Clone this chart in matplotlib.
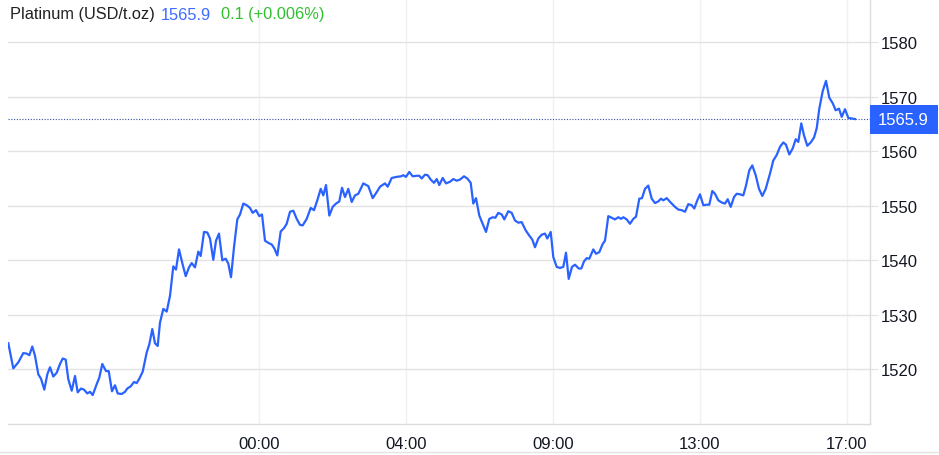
import matplotlib.pyplot as plt
from matplotlib.patches import Rectangle
from matplotlib.lines import Line2D

plt.rcParams['font.family'] = ['Liberation Sans', 'DejaVu Sans']

# session position (chart units) and platinum price
pos = [0.3, 5.3, 10.3, 15.3, 18.7, 21.3, 24.3, 27.0, 30.3, 33.0, 36.3, 39.3, 42.0, 45.3,
       48.7, 52.0, 54.7, 57.7, 60.3, 63.7, 67.0, 69.7, 73.0, 76.0, 79.3, 82.0, 84.7, 88.7,
       91.3, 94.3, 98.0, 100.7, 104.0, 107.0, 109.7, 113.7, 117.0, 119.3, 122.7, 126.0,
       128.7, 131.3,
       134.7, 138.7, 141.3, 144.3, 147.0, 149.7, 152.0, 155.3, 158.7, 162.0, 165.3, 168.0,
       171.0, 174.3, 177.7, 181.0, 183.7, 187.0, 190.3, 192.7, 196.0, 199.3, 202.0, 205.3,
       208.0, 211.0, 214.3, 217.7, 220.3, 223.0, 226.0, 229.3, 232.0, 235.3, 238.7, 242.0,
       244.7, 248.0, 251.3, 254.0, 257.0, 260.3, 263.7, 266.3, 269.3, 272.7, 276.0, 278.7,
       282.0,
       285.3, 288.7, 292.0, 294.7, 298.7, 302.7, 306.0, 309.3, 312.7, 315.3, 318.0, 321.3,
       324.7, 328.0, 331.3, 334.0, 337.0, 340.3, 343.7, 347.0, 350.3, 355.3, 360.3, 364.7,
       368.7, 372.0, 377.0, 379.7, 383.7, 388.7, 393.0, 395.3, 398.0, 401.3, 404.7, 408.7,
       411.3, 413.7, 417.0, 419.7, 422.7, 426.0, 428.7, 431.3, 434.7, 438.0, 442.0, 445.3,
       448.7, 452.0, 456.0, 459.3, 462.7,
       465.3, 468.0, 471.3, 474.7, 478.0, 481.3, 484.7, 487.3, 490.3, 493.7, 496.3, 500.3,
       503.7, 507.0, 510.3, 513.7, 517.7, 521.0, 524.3, 527.0, 530.3, 533.7, 537.0, 539.3,
       542.7, 545.3, 548.7, 552.0, 555.3, 558.0, 560.7, 564.0, 567.0, 570.7, 573.3, 576.0,
       578.7, 581.3, 585.3, 588.0, 591.3, 594.7, 597.0, 600.3,
       603.7, 607.0, 610.3, 613.0, 615.3, 618.7, 622.0, 625.3, 628.0, 631.3, 634.0, 637.0,
       640.3, 643.7, 647.0, 650.3, 653.0, 655.3, 658.7, 662.7, 667.0, 670.3, 673.7, 677.0,
       680.3, 683.7, 686.3, 689.3, 692.0, 695.3, 698.7, 701.3, 704.3, 707.0, 710.3, 713.7,
       717.0, 719.7, 722.7, 726.0, 728.7, 732.0, 735.3, 738.0, 741.3, 744.3, 747.7, 751.0,
       754.3, 757.7, 762.0, 765.3, 768.7, 772.0, 775.3, 778.0, 781.3, 784.7, 787.7, 790.3,
       793.3, 796.0, 799.3, 802.7, 806.0, 808.7, 811.3, 814.7, 818.0, 821.3, 824.7, 827.7,
       831.0, 833.7, 837.0, 840.3, 843.7, 847.0]

price = [1524.8, 1520.2, 1521.3, 1523.0, 1522.9, 1522.6, 1524.2, 1522.5, 1519.1, 1518.3,
         1516.3, 1519.1, 1520.4, 1518.7, 1519.4, 1521.0, 1522.0, 1521.8, 1518.2, 1516.1,
         1518.8, 1515.8, 1516.5, 1516.3, 1515.6, 1515.9, 1515.3, 1517.3, 1518.5, 1521.0,
         1519.7, 1519.7, 1516.0, 1517.1, 1515.6, 1515.5, 1515.9, 1516.5, 1516.9, 1517.7,
         1517.5, 1518.3,
         1519.6, 1523.1, 1524.6, 1527.4, 1524.8, 1524.3, 1528.6, 1531.1, 1530.6, 1533.5,
         1538.9, 1538.3, 1542.0, 1539.5, 1537.1, 1538.7, 1539.5, 1538.7, 1541.6, 1540.8,
         1545.2, 1545.1, 1544.0, 1540.1, 1543.6, 1544.9, 1540.0, 1540.3, 1539.4, 1536.9,
         1542.4, 1547.5, 1548.4, 1550.4, 1550.1, 1549.6, 1548.7, 1549.2, 1548.1, 1548.4,
         1543.6, 1543.2, 1542.9, 1542.2, 1540.9, 1545.3, 1545.9, 1546.7, 1548.9,
         1549.1, 1547.6, 1546.5, 1546.4, 1547.6, 1549.6, 1549.2, 1551.0, 1553.1, 1551.9,
         1553.8, 1548.2, 1549.8, 1550.4, 1550.8, 1553.3, 1551.6, 1553.1, 1550.7, 1551.9,
         1552.2, 1554.1, 1553.6, 1551.4, 1552.5, 1553.5, 1554.1, 1553.5, 1555.1, 1555.3,
         1555.4, 1555.6, 1555.3, 1556.2, 1555.4, 1555.5, 1555.5, 1555.0, 1555.7, 1555.6,
         1554.8, 1554.2, 1554.9, 1553.8, 1555.1, 1554.1, 1554.4, 1554.9, 1554.6, 1554.8,
         1555.4, 1555.0, 1554.2,
         1550.4, 1551.4, 1548.2, 1546.7, 1545.2, 1547.6, 1547.9, 1547.8, 1548.7, 1548.4,
         1547.5, 1549.0, 1548.7, 1547.3, 1546.9, 1547.0, 1545.5, 1544.6, 1543.8, 1542.4,
         1544.0, 1544.7, 1544.9, 1544.0, 1545.2, 1540.6, 1538.8, 1538.6, 1538.8, 1541.4,
         1536.6, 1538.8, 1539.2, 1538.5, 1538.5, 1539.8, 1540.4, 1540.3, 1542.0, 1541.2,
         1541.5, 1543.0, 1543.6, 1548.1,
         1547.8, 1547.5, 1547.9, 1547.6, 1547.9, 1547.5, 1546.7, 1547.6, 1548.0, 1551.3,
         1551.4, 1553.1, 1553.7, 1551.3, 1550.5, 1550.8, 1551.3, 1551.0, 1551.4, 1550.6,
         1549.8, 1549.3, 1549.2, 1548.9, 1550.3, 1550.1, 1549.5, 1551.0, 1552.1, 1550.1,
         1550.2, 1550.2, 1552.7, 1552.2, 1551.0, 1550.6, 1550.4, 1551.2, 1549.8, 1551.6,
         1552.2, 1552.1, 1551.9, 1553.7, 1556.5, 1557.4, 1555.6, 1553.1, 1551.8, 1553.1,
         1555.9, 1558.3, 1559.3, 1560.8, 1561.6, 1561.2, 1559.4, 1560.5, 1562.2, 1561.7,
         1565.1, 1562.9, 1561.0, 1561.6, 1562.5, 1564.2, 1567.8, 1571.0, 1572.9, 1569.8,
         1568.8, 1567.5, 1567.8, 1566.3, 1567.7, 1566.1, 1566.0, 1565.9]

tick_pos = [251, 398, 545, 692, 839]
tick_labels = ['00:00', '04:00', '09:00', '13:00', '17:00']
y_ticks = [1520, 1530, 1540, 1550, 1560, 1570, 1580]

last = price[-1]
change = 0.1
change_pct = 0.006

W, H = 939, 456
fig = plt.figure(figsize=(W / 100, H / 100), dpi=100)
ax = fig.add_axes([8 / W, 31 / H, 862 / W, 425 / H])

ax.plot(pos, price, color='#2962ff', lw=1.6, solid_joinstyle='round', zorder=3)
ax.axhline(last, color='#3a4fa8', lw=0.8, ls=(0, (1, 1.5)), zorder=2)

ax.set_xlim(0, 862)
ax.set_ylim(1510, 1587.9)

ax.set_xticks(tick_pos)
ax.set_xticklabels(tick_labels)
ax.set_yticks(y_ticks)
ax.yaxis.tick_right()

ax.grid(axis='y', color='#e3e3e3', lw=1)
ax.grid(axis='x', color='#f1f1f1', lw=1)
ax.set_axisbelow(True)

for s in ['top', 'left']:
    ax.spines[s].set_visible(False)
for s in ['right', 'bottom']:
    ax.spines[s].set_color('#dcdcdc')
    ax.spines[s].set_linewidth(1)

ax.tick_params(axis='y', length=6, color='#e3e3e3', pad=2, labelsize=12, labelcolor='#131722')
ax.tick_params(axis='x', length=0, pad=9, labelsize=12, labelcolor='#131722')

# title with coloured parts
ty = 1 - 15 / H
fig.text(10 / W, ty, 'Platinum (USD/t.oz)', color='#222222', fontsize=11.8, va='center')
fig.text(161 / W, ty, f'{last:.1f}', color='#3d6bff', fontsize=11.8, va='center')
fig.text(221 / W, ty, f'{change} (+{change_pct:.3f}%)', color='#2fc02f', fontsize=11.8,
         va='center')

# last-price label on the right axis
fig.canvas.draw()
y_disp = ax.transData.transform((0, last))[1]
x_disp = ax.transAxes.transform((1, 0))[0]
fig.add_artist(Rectangle((x_disp, y_disp - 14.5), 68, 29, transform=None,
                         facecolor='#2962ff', edgecolor='none'))
fig.text((x_disp + 8) / W, y_disp / H, f'{last:.1f}', color='white', fontsize=12, va='center')

# bottom border
fig.add_artist(Line2D([0, 1], [3 / H, 3 / H], transform=fig.transFigure, color='#e3e3e3', lw=1))

fig.savefig('out.png', dpi=100)
